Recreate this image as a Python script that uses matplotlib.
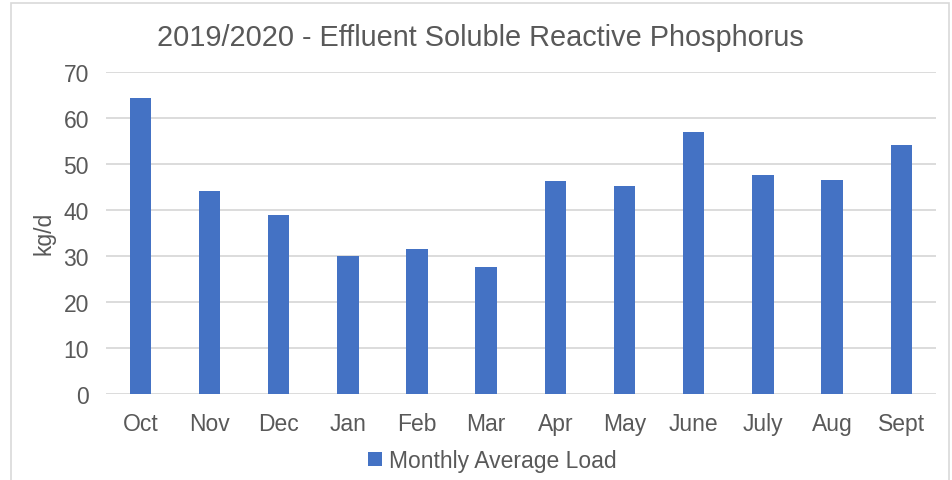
import matplotlib.pyplot as plt
from matplotlib.patches import Rectangle

months = ['Oct', 'Nov', 'Dec', 'Jan', 'Feb', 'Mar', 'Apr', 'May', 'June', 'July', 'Aug', 'Sept']
load = [64.3, 44.0, 38.9, 30.0, 31.5, 27.6, 46.3, 45.1, 56.9, 47.5, 46.5, 54.0]

plt.rcParams['font.family'] = ['Liberation Sans', 'DejaVu Sans']
text_color = '#595959'
grid_color = '#d9d9d9'

fig = plt.figure(figsize=(9.52, 4.81), dpi=100)
ax = fig.add_axes([0.111, 0.179, 0.872, 0.670])

x = range(len(months))
ax.bar(x, load, width=0.31, color='#4472C4', label='Monthly Average Load', zorder=3)

ax.set_xlim(-0.5, len(months) - 0.5)
ax.set_ylim(0, 70)
ax.set_yticks(range(0, 71, 10))
ax.set_xticks(list(x))
ax.set_xticklabels(months)
ax.tick_params(axis='both', length=0, labelsize=16.5, colors=text_color)
ax.tick_params(axis='x', pad=13)
ax.tick_params(axis='y', pad=12)
ax.grid(axis='y', color=grid_color, linewidth=1.3, zorder=0)
for s in ax.spines.values():
    s.set_visible(False)

ax.set_ylabel('kg/d', fontsize=16.5, color=text_color, labelpad=6)
fig.text(0.505, 0.922, '2019/2020 - Effluent Soluble Reactive Phosphorus',
         ha='center', va='center', fontsize=20.8, color=text_color)

fig.legend(loc='center', bbox_to_anchor=(0.517, 0.04), frameon=False,
           fontsize=16.5, labelcolor=text_color, handlelength=0.6, handleheight=0.6,
           handletextpad=0.3)

fig.patches.append(Rectangle((11 / 952, -0.01), 938 / 952, 1 - 4 / 481 + 0.01,
                             transform=fig.transFigure, fill=False,
                             edgecolor=grid_color, linewidth=1.2))

fig.savefig('out.png', dpi=100)
